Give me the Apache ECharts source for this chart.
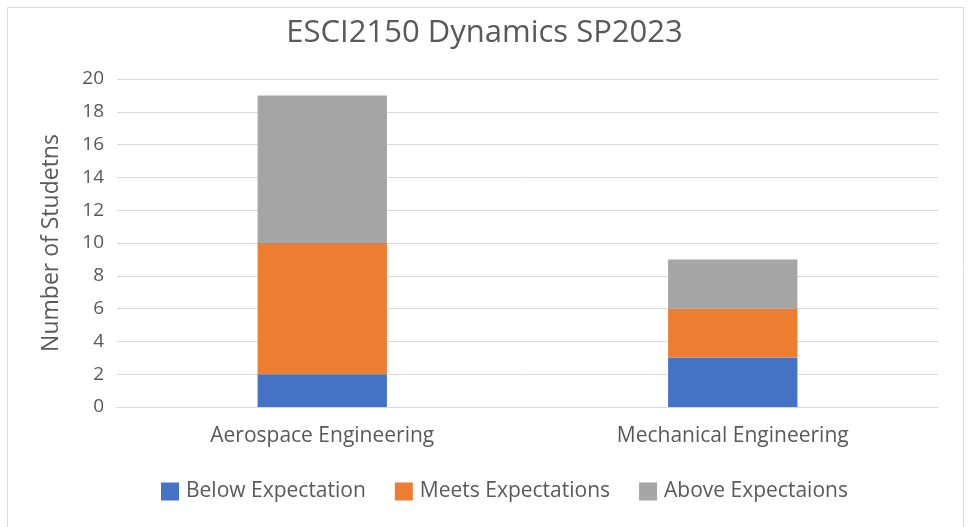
<!DOCTYPE html>
<html>
<head>
<meta charset="utf-8">
<script src="https://cdn.jsdelivr.net/npm/echarts@6/dist/echarts.min.js"></script>
<style>
  html, body { margin: 0; padding: 0; background: #fff; }
  #container { width: 969px; height: 527px; }
</style>
</head>
<body>
<div id="container"></div>
<script>
var categories = ['Aerospace Engineering', 'Mechanical Engineering'];
var belowExpectation = [2, 3];
var meetsExpectations = [8, 3];
var aboveExpectations = [9, 3];

var myChart = echarts.init(document.getElementById('container'));

var font = '"Open Sans", "Liberation Sans", sans-serif';
var textColor = '#595959';

var option = {
    backgroundColor: '#fff',
    animation: false,
    title: {
        text: 'ESCI2150 Dynamics SP2023',
        left: 'center',
        top: 13,
        textStyle: { fontFamily: font, fontSize: 31, fontWeight: 'normal', color: textColor }
    },
    // thin frame like the excel chart border
    graphic: [{
        type: 'rect',
        shape: { x: 7.5, y: 7.5, width: 956, height: 530 },
        style: { fill: 'none', stroke: '#d9d9d9', lineWidth: 1 },
        silent: true
    }],
    legend: {
        bottom: 20,
        left: 156,
        itemWidth: 18,
        itemHeight: 18,
        itemGap: 29,
        icon: 'rect',
        textStyle: { fontFamily: font, fontSize: 21, color: textColor, padding: [0, 0, 0, 2] },
        data: ['Below Expectation', 'Meets Expectations', 'Above Expectaions']
    },
    grid: {
        left: 117,
        right: 31,
        top: 79,
        bottom: 120,
        containLabel: false
    },
    xAxis: {
        type: 'category',
        data: categories,
        axisLine: { show: true, lineStyle: { color: '#d9d9d9' } },
        axisTick: { show: false },
        axisLabel: { fontFamily: font, fontSize: 21, color: textColor, margin: 19 }
    },
    yAxis: {
        type: 'value',
        min: 0,
        max: 20,
        interval: 2,
        name: 'Number of Studetns',
        nameLocation: 'middle',
        nameGap: 54,
        nameTextStyle: { fontFamily: font, fontSize: 23, color: textColor },
        axisLine: { show: false },
        axisTick: { show: false },
        axisLabel: { fontFamily: font, fontSize: 19, color: textColor, margin: 13 },
        splitLine: { lineStyle: { color: '#d9d9d9', width: 1 } }
    },
    series: [
        {
            name: 'Below Expectation',
            type: 'bar',
            stack: 'total',
            barWidth: '31.5%',
            data: belowExpectation,
            itemStyle: { color: '#4472C4' }
        },
        {
            name: 'Meets Expectations',
            type: 'bar',
            stack: 'total',
            data: meetsExpectations,
            itemStyle: { color: '#ED7D31' }
        },
        {
            name: 'Above Expectaions',
            type: 'bar',
            stack: 'total',
            data: aboveExpectations,
            itemStyle: { color: '#A5A5A5' }
        }
    ]
};

myChart.setOption(option);
</script>
</body>
</html>
